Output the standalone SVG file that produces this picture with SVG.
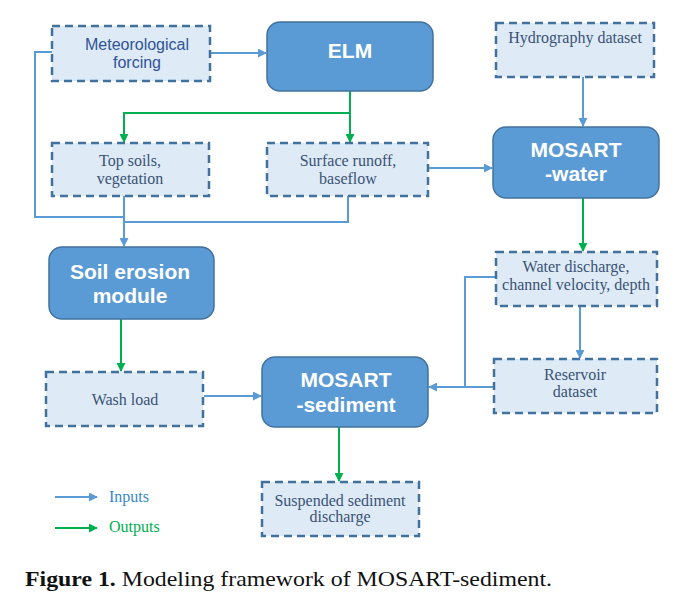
<svg xmlns="http://www.w3.org/2000/svg" width="673" height="608" viewBox="0 0 673 608">
<style>
.solid{fill:#5B9BD5;stroke:#41719C;stroke-width:1.5}
.dash{fill:#DEEAF6;stroke:#41719C;stroke-width:2.5;stroke-dasharray:8 5}
.wt{font-family:"Liberation Sans",Arial,sans-serif;font-weight:bold;font-size:21px;fill:#fff;text-anchor:middle}
.st{font-family:"Liberation Serif","Times New Roman",serif;font-size:16px;fill:#3A5375;text-anchor:middle}
.ct{font-family:"Liberation Sans",Arial,sans-serif;font-size:16px;fill:#2F5496;text-anchor:middle}
.in{fill:none;stroke:#5B9BD5;stroke-width:2}
.out{fill:none;stroke:#00B050;stroke-width:2}
.lg{font-family:"Liberation Serif","Times New Roman",serif;font-size:16px}
</style>
<defs>
<marker id="ab" viewBox="0 0 10 10" refX="9" refY="5" markerWidth="4.5" markerHeight="4.5" orient="auto" markerUnits="strokeWidth"><path d="M0,0 L10,5 L0,10 z" fill="#5B9BD5"/></marker>
<marker id="ag" viewBox="0 0 10 10" refX="9" refY="5" markerWidth="4.5" markerHeight="4.5" orient="auto" markerUnits="strokeWidth"><path d="M0,0 L10,5 L0,10 z" fill="#00B050"/></marker>
</defs>
<rect width="673" height="608" fill="#fff"/>

<g id="connectors">
<path class="in" d="M210,53 H266" marker-end="url(#ab)"/>
<path class="in" d="M52,52 H35 V217 H124"/>
<path class="in" d="M124,196 V246" marker-end="url(#ab)"/>
<path class="in" d="M348,196 V222 H124"/>
<path class="out" d="M350,91 V142" marker-end="url(#ag)"/>
<path class="out" d="M350,113 H124 V142" marker-end="url(#ag)"/>
<path class="in" d="M428,168 H492" marker-end="url(#ab)"/>
<path class="in" d="M583,77 V126" marker-end="url(#ab)"/>
<path class="out" d="M583,198 V251" marker-end="url(#ag)"/>
<path class="out" d="M121,319 V371" marker-end="url(#ag)"/>
<path class="in" d="M204,396 H261" marker-end="url(#ab)"/>
<path class="in" d="M580,306 V358" marker-end="url(#ab)"/>
<path class="in" d="M494,387 H429" marker-end="url(#ab)"/>
<path class="in" d="M496,277 H465 V387"/>
<path class="out" d="M339,427 V481" marker-end="url(#ag)"/>
</g>

<g id="meteo"><rect class="dash" x="52" y="26" width="158" height="55"/><text class="ct" x="137" y="50">Meteorological</text><text class="ct" x="137" y="68">forcing</text></g>
<g id="elm"><rect class="solid" x="267" y="22" width="166" height="69" rx="13"/><text class="wt" x="350" y="58">ELM</text></g>
<g id="hydro"><rect class="dash" x="496" y="23" width="158" height="54"/><text class="st" x="575" y="43">Hydrography dataset</text></g>
<g id="topsoils"><rect class="dash" x="52" y="143" width="157" height="53"/><text class="st" x="130" y="166">Top soils,</text><text class="st" x="130" y="184">vegetation</text></g>
<g id="runoff"><rect class="dash" x="267" y="143" width="161" height="53"/><text class="st" x="348" y="166">Surface runoff,</text><text class="st" x="348" y="184">baseflow</text></g>
<g id="mosart-water"><rect class="solid" x="493" y="127" width="166" height="71" rx="13"/><text class="wt" x="576" y="157">MOSART</text><text class="wt" x="576" y="181">-water</text></g>
<g id="soil-erosion"><rect class="solid" x="49" y="247" width="165" height="72" rx="13"/><text class="wt" x="130" y="279">Soil erosion</text><text class="wt" x="130" y="303">module</text></g>
<g id="water-discharge"><rect class="dash" x="496" y="252" width="161" height="54"/><text class="st" x="576" y="272">Water discharge,</text><text class="st" x="576" y="290">channel velocity, depth</text></g>
<g id="washload"><rect class="dash" x="46" y="372" width="157" height="54"/><text class="st" x="125" y="405">Wash load</text></g>
<g id="mosart-sediment"><rect class="solid" x="262" y="357" width="166" height="70" rx="13"/><text class="wt" x="346" y="387">MOSART</text><text class="wt" x="346" y="412">-sediment</text></g>
<g id="reservoir"><rect class="dash" x="494" y="359" width="163" height="54"/><text class="st" x="575" y="380">Reservoir</text><text class="st" x="575" y="397">dataset</text></g>
<g id="suspended"><rect class="dash" x="262" y="482" width="157" height="54"/><text class="st" x="340" y="506">Suspended sediment</text><text class="st" x="340" y="522">discharge</text></g>

<g id="legend">
<path class="in" d="M55,497 H97" marker-end="url(#ab)"/>
<text class="lg" x="109" y="502" fill="#3B87CF">Inputs</text>
<path class="out" d="M55,528 H97" marker-end="url(#ag)"/>
<text class="lg" x="109" y="532" fill="#00B050">Outputs</text>
</g>
<text x="25" y="586" font-family="Liberation Serif,Times New Roman,serif" font-size="21" fill="#111" textLength="527" lengthAdjust="spacingAndGlyphs"><tspan font-weight="bold">Figure 1.</tspan> Modeling framework of MOSART-sediment.</text>
</svg>
